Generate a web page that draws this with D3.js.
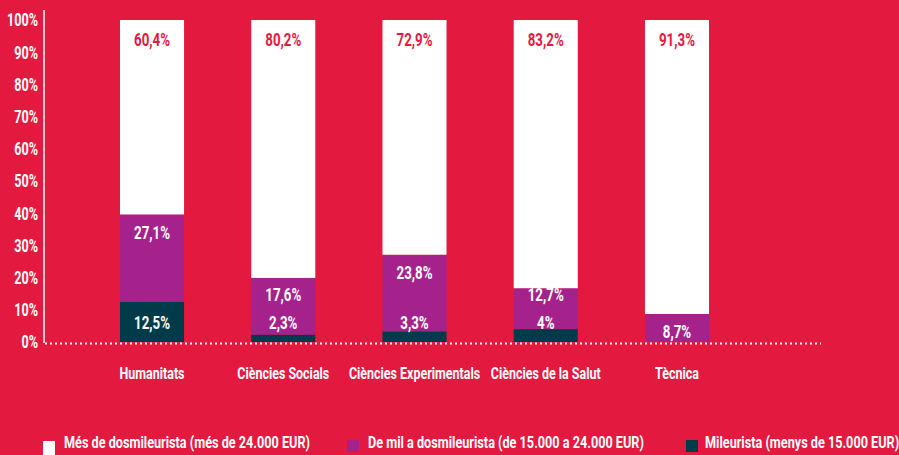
<!DOCTYPE html>
<html>
<head>
<meta charset="utf-8">
<script src="https://cdn.jsdelivr.net/npm/d3@7"></script>
<style>
  html, body { margin: 0; padding: 0; background: #e4193f; }
  svg { display: block; }
  text { font-family: Roboto, "Noto Sans", sans-serif; font-weight: bold; }
</style>
</head>
<body>
<svg id="chart" width="899" height="455"></svg>
<script>
// data
const categories = ["Humanitats", "Ciències Socials", "Ciències Experimentals", "Ciències de la Salut", "Tècnica"];
const mileurista = [12.5, 2.3, 3.3, 4, 0];
const deMil = [27.1, 17.6, 23.8, 12.7, 8.7];
const mesDos = [60.4, 80.2, 72.9, 83.2, 91.3];
const yTicks = [0, 10, 20, 30, 40, 50, 60, 70, 80, 90, 100];
const legendLabels = [
    "Més de dosmileurista (més de 24.000 EUR)",
    "De mil a dosmileurista (de 15.000 a 24.000 EUR)",
    "Mileurista (menys de 15.000 EUR)"
];

const red = "#e4193f", purple = "#a5228c", dark = "#003b49";
const fmt = v => String(v).replace(".", ",") + "%";

const svg = d3.select("#chart");

// squeeze text horizontally so it looks like the condensed face of the original
function condense(sel, k) {
    sel.each(function () {
        const w = this.getComputedTextLength();
        d3.select(this)
            .attr("textLength", w * k)
            .attr("lengthAdjust", "spacingAndGlyphs");
    });
}
function ratio(sample, size, target) {
    const t = svg.append("text").style("font-size", size + "px").text(sample);
    const w = t.node().getComputedTextLength();
    t.remove();
    return target / w;
}

const x = d3.scaleBand()
    .domain(categories)
    .range([86.4, 742.6])
    .paddingInner(0.512)
    .paddingOuter(0.256);

const y = d3.scaleLinear()
    .domain([0, 100])
    .range([342, 20]);

// y axis: labels only plus a plain white line
svg.append("line")
    .attr("x1", 44).attr("x2", 44)
    .attr("y1", 10).attr("y2", 343)
    .attr("stroke", "#fff")
    .attr("stroke-width", 1.5);

const tickK = ratio("100%", 18, 31);
svg.append("g")
    .selectAll("text")
    .data(yTicks)
    .join("text")
    .attr("x", 38)
    .attr("y", d => y(d))
    .attr("dy", "0.36em")
    .attr("text-anchor", "end")
    .attr("fill", "#fff")
    .style("font-size", "18px")
    .text(d => d + "%")
    .call(condense, tickK);

const rows = categories.map((c, i) => ({
    cat: c,
    low: mileurista[i],
    mid: deMil[i],
    high: mesDos[i]
}));

const g = svg.append("g");
const barK = ratio("60,4%", 18, 36);

// stacked bars
rows.forEach(d => {
    const bx = x(d.cat), bw = x.bandwidth();
    const segs = [
        { y0: 0, y1: d.low, fill: dark },
        { y0: d.low, y1: d.low + d.mid, fill: purple },
        { y0: d.low + d.mid, y1: 100, fill: "#fff" }
    ];
    g.selectAll(null)
        .data(segs.filter(s => s.y1 > s.y0))
        .enter().append("rect")
        .attr("x", bx)
        .attr("width", bw)
        .attr("y", s => y(s.y1))
        .attr("height", s => y(s.y0) - y(s.y1))
        .attr("fill", s => s.fill);

    const cx = bx + bw / 2;
    const lowY = y(0) - 19;
    let midY = y(d.low + d.mid) + 18;
    if (d.low > 0) midY = Math.min(midY, lowY - 28);
    else midY = Math.min(midY, y(0) - 10);

    const labels = [
        { v: d.high, yy: y(100) + 20, fill: red },
        { v: d.mid, yy: midY, fill: "#fff" }
    ];
    if (d.low > 0) labels.push({ v: d.low, yy: lowY, fill: "#fff" });

    g.selectAll(null)
        .data(labels)
        .enter().append("text")
        .attr("x", cx)
        .attr("y", l => l.yy)
        .attr("dy", "0.36em")
        .attr("text-anchor", "middle")
        .attr("fill", l => l.fill)
        .style("font-size", "18px")
        .text(l => fmt(l.v))
        .call(condense, barK);
});

// dotted baseline
svg.append("line")
    .attr("x1", 45).attr("x2", 821)
    .attr("y1", 343.5).attr("y2", 343.5)
    .attr("stroke", "#fff")
    .attr("stroke-width", 2)
    .attr("stroke-dasharray", "2,3");

// category labels
const catK = ratio("Humanitats", 17, 65);
svg.append("g")
    .selectAll("text")
    .data(categories)
    .join("text")
    .attr("x", d => x(d) + x.bandwidth() / 2)
    .attr("y", 373)
    .attr("dy", "0.36em")
    .attr("text-anchor", "middle")
    .attr("fill", "#fff")
    .style("font-size", "17px")
    .text(d => d)
    .call(condense, catK);

// legend
const legendPos = [
    { sx: 43, sy: 441, tx: 64, fill: "#fff" },
    { sx: 347, sy: 440, tx: 368, fill: purple },
    { sx: 686, sy: 440, tx: 705, fill: dark }
];
const legK = ratio(legendLabels[0], 17, 246);
const legend = svg.append("g");
legendLabels.forEach((t, i) => {
    const p = legendPos[i];
    legend.append("rect")
        .attr("x", p.sx).attr("y", p.sy)
        .attr("width", 12).attr("height", i === 0 ? 14 : 12)
        .attr("fill", p.fill);
    legend.append("text")
        .attr("x", p.tx)
        .attr("y", 442)
        .attr("dy", "0.36em")
        .attr("fill", "#fff")
        .style("font-size", "17px")
        .text(t)
        .call(condense, legK);
});
</script>
</body>
</html>
